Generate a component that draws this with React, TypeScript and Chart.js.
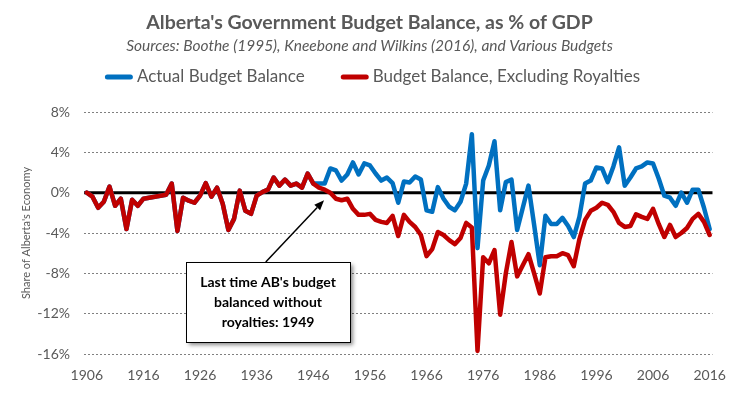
import React, { useEffect, useRef } from "react";
import { Chart, registerables } from "chart.js";

Chart.register(...registerables);

const chartTitle = "Alberta's Government Budget Balance, as % of GDP";
const chartSubtitle = "Sources: Boothe (1995), Kneebone and Wilkins (2016), and Various Budgets";
const yAxisTitle = "Share of Alberta's Economy";
const seriesNames = ["Actual Budget Balance", "Budget Balance, Excluding Royalties"];
const seriesColors = ["#0070C0", "#C00000"];
const noteLines = ["Last time AB's budget", "balanced without", "royalties: 1949"];

const firstYear = 1906;
const lastYear = 2016;
const xTickYears = [1906, 1916, 1926, 1936, 1946, 1956, 1966, 1976, 1986, 1996, 2006, 2016];
const yTickValues = [-16, -12, -8, -4, 0, 4, 8];

// % of GDP, 1906..2016
const actualBalance = [
  0.0, -0.4, -1.5, -0.9, 0.6, -1.3, -0.6, -3.6, -0.7, -1.3,
  -0.6, -0.5, -0.4, -0.3, -0.2, 0.9, -3.8, -0.5, -0.8, -1.0,
  -0.3, 0.95, -0.4, 0.5, -1.1, -3.7, -2.6, 0.2, -1.8, -2.1,
  -0.3, 0.05, 0.3, 1.5, 0.7, 1.3, 0.7, 0.9, 0.5, 1.9,
  0.9, 0.9, 0.9, 2.4, 2.2, 1.2, 1.8, 3.0, 1.8, 2.9,
  2.7, 1.9, 1.2, 1.5, 0.95, -1.0, 1.1, 1.0, 1.6, 1.3,
  -1.75, -1.9, 0.55, -0.6, -1.4, -1.75, -0.9, 0.9, 5.8, -5.5,
  1.2, 2.7, 5.1, -1.75, 1.05, 1.3, -3.7, -1.5, 0.7, -3.2,
  -7.2, -2.3, -3.1, -3.1, -2.5, -3.3, -4.4, -2.4, 0.9, 1.2,
  2.5, 2.4, 1.05, 2.6, 4.5, 0.7, 1.5, 2.4, 2.6, 3.0,
  2.9, 1.4, -0.3, -0.5, -1.3, 0.0, -1.0, 0.3, 0.3, -1.5, -3.6,
];

const balanceExRoyalties = [
  0.0, -0.4, -1.5, -0.9, 0.6, -1.3, -0.6, -3.6, -0.7, -1.3,
  -0.6, -0.5, -0.4, -0.3, -0.2, 0.9, -3.8, -0.5, -0.8, -1.0,
  -0.3, 0.95, -0.4, 0.5, -1.1, -3.7, -2.6, 0.2, -1.8, -2.1,
  -0.3, 0.05, 0.3, 1.5, 0.7, 1.3, 0.7, 0.9, 0.5, 1.9,
  0.9, 0.5, 0.3, 0.0, -0.6, -0.75, -0.6, -1.6, -2.2, -2.2,
  -2.1, -2.7, -2.9, -3.0, -2.3, -4.3, -2.2, -2.9, -3.4, -4.2,
  -6.3, -5.6, -3.9, -4.2, -4.7, -5.1, -4.5, -3.0, -3.45, -15.7,
  -6.4, -7.0, -5.7, -12.1, -8.0, -4.9, -8.3, -7.2, -6.1, -8.0,
  -10.0, -6.4, -6.3, -6.3, -6.0, -6.2, -7.3, -4.6, -2.7, -1.8,
  -1.5, -1.0, -1.2, -1.9, -3.0, -3.4, -3.3, -2.15, -2.4, -2.6,
  -1.6, -3.1, -4.4, -3.2, -4.4, -4.0, -3.5, -2.6, -2.1, -2.9, -4.2,
];

const FONT = "Lato, 'Open Sans', 'DejaVu Sans', sans-serif";
const TEXT = "#595959";

const headerPlugin = {
  id: "header",
  afterDraw(chart: any) {
    const { ctx, width } = chart;
    ctx.save();
    ctx.textAlign = "center";
    ctx.textBaseline = "middle";
    ctx.fillStyle = TEXT;
    ctx.font = `bold 19.5px ${FONT}`;
    ctx.fillText(chartTitle, width / 2, 23);
    ctx.font = `italic 15.5px ${FONT}`;
    ctx.fillText(chartSubtitle, width / 2, 46);

    ctx.font = `17px ${FONT}`;
    const items = chart.data.datasets.map((ds: any) => ({
      label: ds.label,
      color: ds.borderColor,
      w: ctx.measureText(ds.label).width,
    }));
    const sw = 28, gap = 4, between = 36;
    const total = items.reduce((s: number, it: any) => s + sw + gap + it.w, 0) + between * (items.length - 1);
    let x = width / 2 + 3 - total / 2;
    const y = 77;
    ctx.textAlign = "left";
    items.forEach((it: any) => {
      ctx.strokeStyle = it.color;
      ctx.lineWidth = 5;
      ctx.lineCap = "round";
      ctx.beginPath();
      ctx.moveTo(x + 2.5, y);
      ctx.lineTo(x + sw - 2.5, y);
      ctx.stroke();
      ctx.fillText(it.label, x + sw + gap, y);
      x += sw + gap + it.w + between;
    });
    ctx.restore();
  },
};

const zeroLinePlugin = {
  id: "zeroLine",
  beforeDatasetsDraw(chart: any) {
    const { ctx, chartArea, scales } = chart;
    const y = scales.y.getPixelForValue(0);
    ctx.save();
    ctx.strokeStyle = "#000";
    ctx.lineWidth = 3;
    ctx.beginPath();
    ctx.moveTo(chartArea.left, y);
    ctx.lineTo(chartArea.right, y);
    ctx.stroke();
    ctx.restore();
  },
};

const notePlugin = {
  id: "note",
  afterDatasetsDraw(chart: any) {
    const { ctx } = chart;
    const { x, y } = chart.scales;
    const left = Math.round(x.getPixelForValue(1923.45));
    const right = Math.round(x.getPixelForValue(1952.5));
    const top = Math.round(y.getPixelForValue(-6.9));
    const bottom = Math.round(y.getPixelForValue(-14.8));
    ctx.save();
    ctx.shadowColor = "rgba(0,0,0,0.45)";
    ctx.shadowBlur = 4;
    ctx.shadowOffsetX = 3;
    ctx.shadowOffsetY = 3;
    ctx.fillStyle = "#fff";
    ctx.fillRect(left, top, right - left, bottom - top);
    ctx.shadowColor = "transparent";
    ctx.shadowBlur = 0;
    ctx.shadowOffsetX = 0;
    ctx.shadowOffsetY = 0;
    ctx.strokeStyle = "#000";
    ctx.lineWidth = 1;
    ctx.strokeRect(left + 0.5, top + 0.5, right - left, bottom - top);

    ctx.fillStyle = "#000";
    ctx.font = `bold 14px ${FONT}`;
    ctx.textAlign = "center";
    ctx.textBaseline = "middle";
    const cx = (left + right) / 2;
    noteLines.forEach((t, i) => ctx.fillText(t, cx, top + 20 + i * 20));

    const ax = x.getPixelForValue(1937.6);
    const ay = top;
    const tx = x.getPixelForValue(1947.9);
    const ty = y.getPixelForValue(-0.75);
    const ang = Math.atan2(ty - ay, tx - ax);
    const hl = 10, hw = 4;
    const bx = tx - hl * Math.cos(ang);
    const by = ty - hl * Math.sin(ang);
    ctx.strokeStyle = "#000";
    ctx.lineWidth = 1.5;
    ctx.beginPath();
    ctx.moveTo(ax, ay);
    ctx.lineTo(bx, by);
    ctx.stroke();
    ctx.beginPath();
    ctx.moveTo(tx, ty);
    ctx.lineTo(bx + hw * Math.sin(ang), by - hw * Math.cos(ang));
    ctx.lineTo(bx - hw * Math.sin(ang), by + hw * Math.cos(ang));
    ctx.closePath();
    ctx.fill();
    ctx.restore();
  },
};

export default function App() {
  const ref = useRef<HTMLCanvasElement>(null);

  useEffect(() => {
    document.body.style.margin = "0";
    const canvas = ref.current;
    if (!canvas) return;
    const toPoints = (arr: number[]) => arr.map((v, i) => ({ x: firstYear + i, y: v }));
    const chart = new Chart(canvas, {
      type: "line",
      data: {
        datasets: [
          {
            label: seriesNames[0],
            data: toPoints(actualBalance),
            borderColor: seriesColors[0],
            backgroundColor: seriesColors[0],
            borderWidth: 4.5,
            pointRadius: 0,
            tension: 0,
            borderJoinStyle: "round",
            borderCapStyle: "round",
            order: 1,
          },
          {
            label: seriesNames[1],
            data: toPoints(balanceExRoyalties),
            borderColor: seriesColors[1],
            backgroundColor: seriesColors[1],
            borderWidth: 4.5,
            pointRadius: 0,
            tension: 0,
            borderJoinStyle: "round",
            borderCapStyle: "round",
            order: 0,
          },
        ],
      },
      options: {
        animation: false,
        responsive: true,
        maintainAspectRatio: false,
        devicePixelRatio: 1,
        events: [],
        layout: { padding: { top: 112, left: 0, right: 24, bottom: 7 } },
        plugins: {
          legend: { display: false },
          tooltip: { enabled: false },
          title: { display: false },
        },
        scales: {
          x: {
            type: "linear",
            min: firstYear - 0.5,
            max: lastYear + 0.5,
            afterBuildTicks: (scale: any) => {
              scale.ticks = xTickYears.map((v) => ({ value: v }));
            },
            afterFit: (scale: any) => {
              scale.height = 32;
            },
            grid: { display: false, drawTicks: false },
            border: { display: false },
            ticks: {
              autoSkip: false,
              maxRotation: 0,
              padding: 13,
              color: TEXT,
              font: { family: FONT, size: 14 },
              callback: (v: any) => String(v),
            },
          },
          y: {
            type: "linear",
            min: -16,
            max: 8,
            afterBuildTicks: (scale: any) => {
              scale.ticks = yTickValues.map((v) => ({ value: v }));
            },
            afterFit: (scale: any) => {
              scale.width = 84;
            },
            grid: {
              drawTicks: false,
              color: (c: any) => (c.tick && c.tick.value === 0 ? "rgba(0,0,0,0)" : "#808080"),
              lineWidth: 1,
            },
            border: { display: false, dash: [2, 2] },
            ticks: {
              padding: 14,
              color: TEXT,
              font: { family: FONT, size: 14 },
              callback: (v: any) => `${v}%`,
            },
            title: {
              display: true,
              text: yAxisTitle,
              color: TEXT,
              font: { family: FONT, size: 11 },
              padding: { top: 20, bottom: 0 },
            },
          },
        },
      },
      plugins: [headerPlugin, zeroLinePlugin, notePlugin],
    });
    return () => chart.destroy();
  }, []);

  return (
    <div style={{ width: 739, height: 393, position: "relative" }}>
      <canvas ref={ref} />
    </div>
  );
}
